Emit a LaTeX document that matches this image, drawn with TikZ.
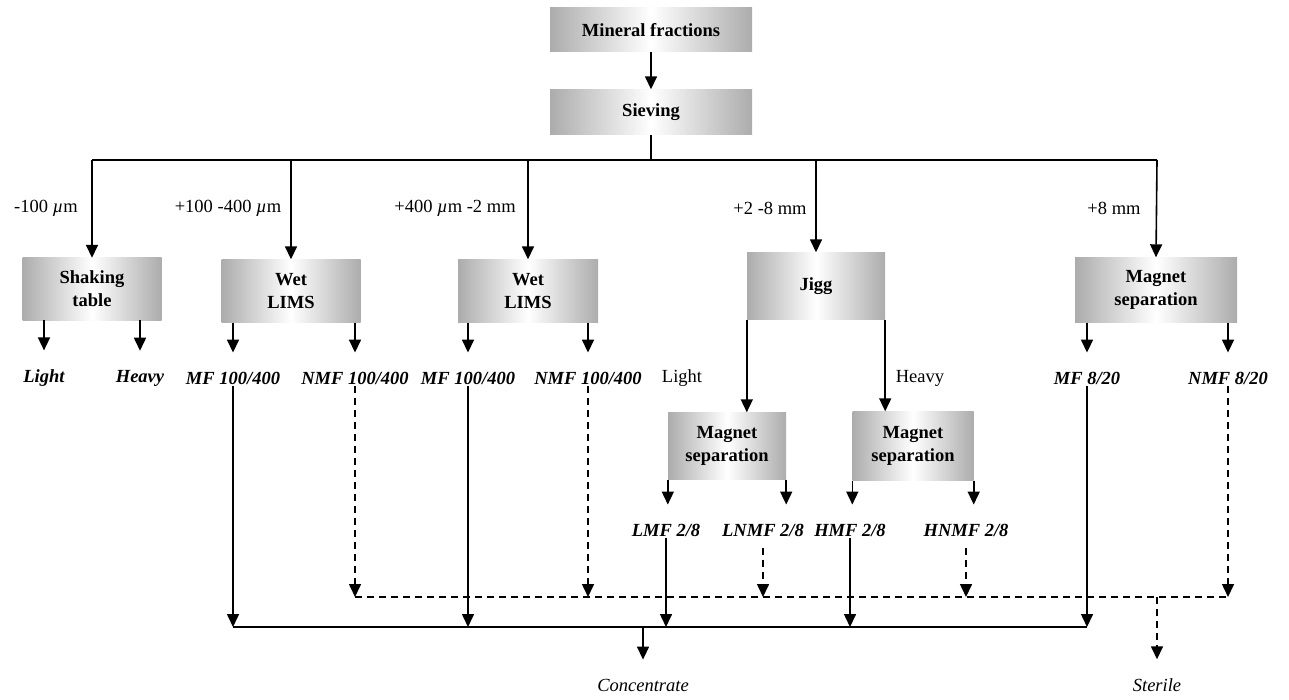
\documentclass[tikz,border=0pt]{standalone}
\usepackage{fontspec}
\setmainfont{Liberation Serif}
\usetikzlibrary{arrows.meta}
\begin{document}
\begin{tikzpicture}[x=1pt,y=-1pt,
 box/.style={draw=none, left color=gray!65, right color=gray!65, middle color=white,
   font=\bfseries\fontsize{18.5}{23}\selectfont, align=center, inner sep=0pt},
 arr/.style={-{Triangle[width=12pt,length=13pt]}, line width=1.6pt},
 dsh/.style={dash pattern=on 7pt off 5pt, line width=1.6pt},
 lab/.style={font=\fontsize{18.5}{22}\selectfont, inner sep=2pt},
 outl/.style={font=\bfseries\itshape\fontsize{18.5}{22}\selectfont, inner sep=2pt},
 fin/.style={font=\itshape\fontsize{18.5}{22}\selectfont, inner sep=2pt},
]
\useasboundingbox (0,0) rectangle (1289,700);

% boxes
\node[box, minimum width=202pt, minimum height=44pt] (mf) at (651,30) {Mineral fractions};
\node[box, minimum width=202pt, minimum height=45pt] (sv) at (651,112) {Sieving};
\node[box, minimum width=139pt, minimum height=62pt] (st) at (92,289) {Shaking\\table};
\node[box, minimum width=139pt, minimum height=63pt] (wl1) at (291,291) {Wet\\LIMS};
\node[box, minimum width=140pt, minimum height=63pt] (wl2) at (528,291) {Wet\\LIMS};
\node[box, minimum width=138pt, minimum height=67pt] (jg) at (816,286) {Jigg};
\node[box, minimum width=162pt, minimum height=65pt] (ms) at (1156,290) {Magnet\\separation};
\node[box, minimum width=118pt, minimum height=67pt] (msl) at (727,446) {Magnet\\separation};
\node[box, minimum width=121pt, minimum height=69pt] (msr) at (913,446) {Magnet\\separation};

% size labels
\node[lab] (s1) at (46,208) {-100 {\itshape µ}m};
\node[lab] (s2) at (228,208) {+100 -400 {\itshape µ}m};
\node[lab] (s3) at (455,208) {+400 {\itshape µ}m -2 mm};
\node[lab] (s4) at (770,208) {+2 -8 mm};
\node[lab] (s5) at (1114,208) {+8 mm};

% product labels
\node[outl] (light) at (44,378) {Light};
\node[outl] (heavy) at (140,378) {Heavy};
\node[outl] (mf1) at (233,378) {MF 100/400};
\node[outl] (nmf1) at (355,378) {NMF 100/400};
\node[outl] (mf2) at (468,378) {MF 100/400};
\node[outl] (nmf2) at (588,378) {NMF 100/400};
\node[outl] (mf3) at (1087,378) {MF 8/20};
\node[outl] (nmf3) at (1228,378) {NMF 8/20};
\node[lab] (jl) at (682,378) {Light};
\node[lab] (jh) at (920,378) {Heavy};
\node[outl] (lmf) at (666,530) {LMF 2/8};
\node[outl] (lnmf) at (763,530) {LNMF 2/8};
\node[outl] (hmf) at (850,530) {HMF 2/8};
\node[outl] (hnmf) at (966,530) {HNMF 2/8};
\node[fin] (conc) at (643,685) {Concentrate};
\node[fin] (ster) at (1157,685) {Sterile};

% top part
\draw[arr] (mf.south) -- (sv.north);
\coordinate (bl) at (92,160);
\coordinate (br) at (1157,160);
\draw[line width=1.6pt] (sv.south) -- (sv.south |- bl);
\draw[line width=1.6pt] (bl) -- (br);
\draw[arr] (bl) -- (st.north);
\draw[arr] (wl1.north |- bl) -- (wl1.north);
\draw[arr] (wl2.north |- bl) -- (wl2.north);
\draw[arr] (jg.north |- bl) -- (jg.north);
\draw[arr] (br) -- (ms.north);

% first level outputs
\draw[arr, shorten >=17pt] (light |- st.south) -- (light.north);
\draw[arr, shorten >=17pt] (heavy |- st.south) -- (heavy.north);
\draw[arr, shorten >=17pt] (mf1 |- wl1.south) -- (mf1.north);
\draw[arr, shorten >=17pt] (nmf1 |- wl1.south) -- (nmf1.north);
\draw[arr, shorten >=17pt] (mf2 |- wl2.south) -- (mf2.north);
\draw[arr, shorten >=17pt] (nmf2 |- wl2.south) -- (nmf2.north);
\draw[arr, shorten >=17pt] (mf3 |- ms.south) -- (mf3.north);
\draw[arr, shorten >=17pt] (nmf3 |- ms.south) -- (nmf3.north);

% jigg
\draw[arr] (jg.south west) -- (jg.south west |- msl.north);
\draw[arr] (jg.south east) -- (jg.south east |- msr.north);
\draw[arr, shorten >=17pt] (msl.south west) -- (msl.south west |- lmf.north);
\draw[arr, shorten >=17pt] (msl.south east) -- (msl.south east |- lnmf.north);
\draw[arr, shorten >=17pt] (msr.south west) -- (msr.south west |- hmf.north);
\draw[arr, shorten >=17pt] (msr.south east) -- (msr.south east |- hnmf.north);

% concentrate collector
\coordinate (sb) at (0,627);
\draw[arr] (mf1.south) -- (mf1 |- sb);
\draw[arr] (mf2.south) -- (mf2 |- sb);
\draw[arr] (lmf.south) -- (lmf |- sb);
\draw[arr] (hmf.south) -- (hmf |- sb);
\draw[arr] (mf3.south) -- (mf3 |- sb);
\draw[line width=1.6pt] (mf1 |- sb) -- (mf3 |- sb);
\draw[arr, shorten >=17pt] (conc |- sb) -- (conc.north);

% sterile collector
\coordinate (db) at (0,597);
\draw[arr, dsh] (nmf1.south) -- (nmf1 |- db);
\draw[arr, dsh] (nmf2.south) -- (nmf2 |- db);
\draw[arr, dsh, shorten <=10pt] (lnmf.south) -- (lnmf |- db);
\draw[arr, dsh, shorten <=10pt] (hnmf.south) -- (hnmf |- db);
\draw[arr, dsh] (nmf3.south) -- (nmf3 |- db);
\draw[dsh] (nmf1 |- db) -- (nmf3 |- db);
\draw[arr, dsh, shorten >=17pt] (ster |- db) -- (ster.north);
\end{tikzpicture}
\end{document}
